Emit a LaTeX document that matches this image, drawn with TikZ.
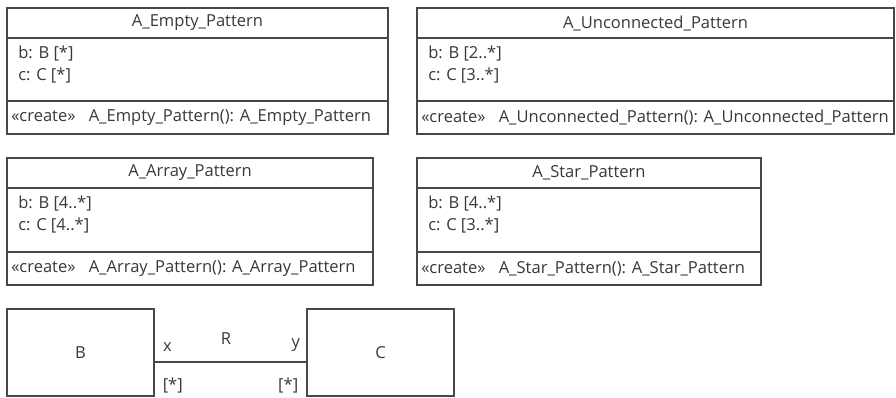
\documentclass[tikz,border=0pt]{standalone}
\usepackage{fontspec}
\setmainfont{Open Sans}
\usetikzlibrary{fit}
\definecolor{umlline}{HTML}{484848}
\definecolor{umltext}{HTML}{383838}
\begin{document}
\begin{tikzpicture}[x=0.75pt, y=-0.75pt,
  every node/.style={font=\fontsize{12.4}{14}\selectfont, text=umltext},
  classbox/.style={draw=umlline, line width=0.8pt, rectangle, inner sep=0pt},
  umlsep/.style={draw=umlline, line width=0.8pt},
  attr/.style={anchor=west, inner sep=0pt},
  assoc/.style={draw=umlline, line width=0.8pt}]
\useasboundingbox (0,0) rectangle (896,397);
% pattern classes
\node[classbox, fit={(7,8) (388,134)}] (E) {};
\node[classbox, fit={(417,8) (894,134)}] (U) {};
\node[classbox, fit={(7,158) (373,285)}] (A) {};
\node[classbox, fit={(417,158) (761,285)}] (S) {};
\draw[umlsep] (E.west |- 0,38) -- (E.east |- 0,38);
\draw[umlsep] (E.west |- 0,101) -- (E.east |- 0,101);
\draw[umlsep] (U.west |- 0,38) -- (U.east |- 0,38);
\draw[umlsep] (U.west |- 0,101) -- (U.east |- 0,101);
\draw[umlsep] (A.west |- 0,188) -- (A.east |- 0,188);
\draw[umlsep] (A.west |- 0,252) -- (A.east |- 0,252);
\draw[umlsep] (S.west |- 0,188) -- (S.east |- 0,188);
\draw[umlsep] (S.west |- 0,252) -- (S.east |- 0,252);
% titles
\node (E-t) at (E.north |- 0,23) {A\_Empty\_Pattern};
\node (U-t) at (U.north |- 0,23) {A\_Unconnected\_Pattern};
\node (A-t) at (A.north |- 0,173) {A\_Array\_Pattern};
\node (S-t) at (S.north |- 0,173) {A\_Star\_Pattern};
% attributes
\node[attr] (E-b) at (18,54) {b: B [*]};
\node[attr] (E-c) at (18,76) {c: C [*]};
\node[attr] (U-b) at (428,54) {b: B [2..*]};
\node[attr] (U-c) at (428,76) {c: C [3..*]};
\node[attr] (A-b) at (18,204) {b: B [4..*]};
\node[attr] (A-c) at (18,226) {c: C [4..*]};
\node[attr] (S-b) at (428,204) {b: B [4..*]};
\node[attr] (S-c) at (428,226) {c: C [3..*]};
% operations
\node[attr] (E-o) at (11,117.5) {«create»\hspace{0.8em}A\_Empty\_Pattern(): A\_Empty\_Pattern};
\node[attr] (U-o) at (421,117.5) {«create»\hspace{0.8em}A\_Unconnected\_Pattern(): A\_Unconnected\_Pattern};
\node[attr] (A-o) at (11,268.5) {«create»\hspace{0.8em}A\_Array\_Pattern(): A\_Array\_Pattern};
\node[attr] (S-o) at (421,268.5) {«create»\hspace{0.8em}A\_Star\_Pattern(): A\_Star\_Pattern};
% association
\node[classbox, fit={(7,309) (154,396)}, label=center:B] (B) {};
\node[classbox, fit={(307,309) (454,396)}, label=center:C] (C) {};
\draw[assoc] ([yshift=-7.1pt]B.east) -- ([yshift=-7.1pt]C.west)
  node[pos=0.085, above=4pt] (x) {x}
  node[pos=0.47, above=9pt] (R) {R}
  node[pos=0.93, above=4pt] (y) {y}
  node[pos=0.12, below=8pt] (xm) {[*]}
  node[pos=0.88, below=8pt] (ym) {[*]};
\end{tikzpicture}
\end{document}
